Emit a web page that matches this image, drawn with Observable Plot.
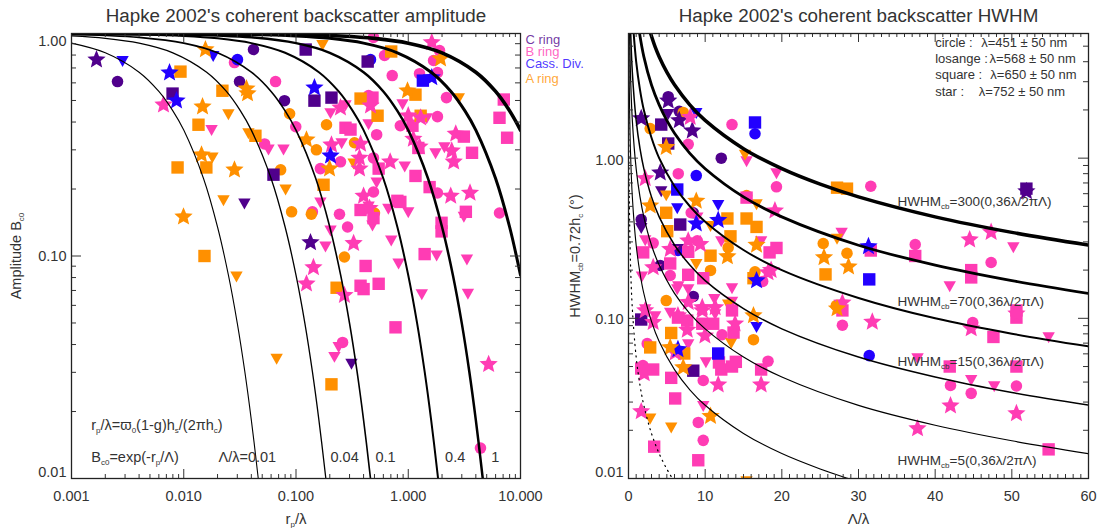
<!DOCTYPE html>
<html><head><meta charset="utf-8">
<script src="https://cdn.jsdelivr.net/npm/d3@7"></script>
<script src="https://cdn.jsdelivr.net/npm/@observablehq/plot@0.6"></script>
<style>
html,body{margin:0;padding:0;background:#fff;width:1099px;height:528px;overflow:hidden}
#a,#b{position:absolute;top:0}#a{left:0}#b{left:540px}
svg{display:block;overflow:visible}
</style></head><body><div id="a"></div><div id="b"></div>
<script>
// ---------- Left panel: [r_p/lambda, amplitude B_c0] ----------
const L_C_circle=[[.00257,.608],[.0418,.847],[.0314,.608],[.079,.499]];
const L_C_tri=[[.0347,.173],[.312,.033]];
const L_C_square=[[.00795,.537],[.063,.232],[.122,.847],[.435,.748],[.146,.499],[.207,.515]];
const L_C_star=[[.00167,.763],[.1346,.115]];
const L_D_circle=[[.0301,.763],[.461,.763]];
const L_D_tri=[[.00285,.756],[.0183,.796]];
const L_D_square=[[1.35,.614]];
const L_D_star=[[.00747,.667],[.00862,.499],[.146,.571],[.203,.282],[1.62,.634]];
const L_A_circle=[[.0877,.436],[.073,.244],[.0914,.158],[.187,.389],[.152,.3],[.332,.323],[.137,.154],[.5,.156],[.27,.099]];
const L_A_tri=[[.025,.436],[.0377,.358],[.018,.279],[.0226,.179],[.0808,.2],[.172,.892],[2.82,.515],[.0295,.0814],[.0672,.0347],[.326,.262]];
const L_A_square=[[.00935,.674],[.0221,.553],[.01353,.389],[.0435,.347],[.00881,.25],[.0159,.25],[.0153,.1],[.176,.209],[.376,.51],[.533,.427],[1.16,.531],[.705,.83],[1.29,.427],[.23,.072],[.207,.0265]];
const L_A_star=[[.0156,.847],[.0362,.565],[.037,.537],[.0147,.469],[.0144,.285],[.0283,.244],[.00995,.15],[.124,.333],[.199,.247],[.985,.553],[1.94,.771]];
const L_B_circle=[[.0283,.74],[.0657,.608],[.0995,.381],[.0525,.319],[.49,.96],[.615,.796],[.72,.647],[1.26,.66],[1.82,.667],[1.68,.756],[1.9,.838],[.443,.526],[1.82,.423],[.85,.385],[.523,.351],[2.19,.515],[.249,.265],[.49,.276],[.165,.247],[.49,.194],[1.82,.192],[6.5,.156],[.14,.158],[.244,.154],[.288,.135],[.26,.0409],[4.4,.0137]];
const L_B_tri=[[.0177,.37],[.0569,.303],[.0774,.303],[.203,.441],[.276,.479],[.255,.323],[.443,.393],[.89,.484],[1.75,.291],[.93,.254],[2.1,.31],[1.46,.418],[.523,.215],[.165,.175],[.665,.164],[1,.158],[.48,.138],[.203,.131],[.183,.111],[.705,.118],[.82,.093],[1.32,.0676],[1.79,.101],[3.33,.097],[3.4,.068],[.443,.168],[3.13,.151],[.22,.0354],[.24,.0392]];
const L_B_square=[[.48,.515],[.276,.377],[.306,.37],[.545,.247],[1.16,.229],[1.55,.204],[3.13,.344],[3.7,.291],[7.6,.34],[6.5,.418],[7.1,.505],[1.09,.385],[1.23,.306],[.376,.161],[.8,.177],[.85,.175],[.49,.148],[3.26,.158],[1.98,.141],[1.98,.129],[1.4,.102],[.417,.0902],[.376,.0735],[.4,.071],[.545,.075],[.77,.0478]];
const L_B_star=[[.0066,.478],[1.62,.911],[.249,.464],[.461,.474],[1,.427],[1.29,.418],[1.11,.336],[1.26,.31],[2.65,.354],[2.44,.297],[2.54,.265],[.207,.316],[.376,.319],[.368,.276],[.69,.265],[.368,.247],[3.55,.192],[2.39,.186],[.4,.186],[.452,.164],[.326,.114],[.143,.0888],[.124,.075],[.27,.0666],[5.2,.0326]];

// ---------- Right panel: [Lambda/lambda, HWHM] ----------
const R_C_circle=[[5.18,2.42],[6.62,1.96],[12.1,1],[1.66,.414],[8.45,.456],[4.14,.214],[8.45,.137]];
const R_C_tri=[[5.18,1.9],[1.66,.369],[4.27,.625],[6.45,.273]];
const R_C_square=[[4.27,1.62],[5.18,1.234],[6.75,.385],[1.66,.0983],[8.45,.0471],[51.9,.645]];
const R_C_star=[[1.66,1.77],[5.18,2.28],[6.62,1.72],[8.32,1.485],[4.14,.812],[51.9,.62]];
const R_D_circle=[[16.5,1.42],[8.84,.778],[31.4,.0585],[6.45,.265]];
const R_D_tri=[[8.84,1.93],[6.36,.49],[11.7,.513],[16.7,.089]];
const R_D_square=[[16.5,1.67],[6.36,.637],[11.7,.0603],[31.4,.175]];
const R_D_star=[[8.84,.39],[11.7,.41],[31.3,.281],[16.7,.172],[6.45,.064]];
const R_A_circle=[[2.83,1.53],[7.14,1.93],[15.4,.584],[4.92,.129],[10.7,.199],[13,.276],[16.5,.195],[25.4,.293],[28.5,.255],[27.1,.12],[16.3,.0736]];
const R_A_tri=[[15.2,1.06],[4.92,.59],[16.7,.52],[10.7,.38],[8.84,.22],[13,.123],[13.4,.0706],[2.83,.0239],[5.57,.021],[27.2,.316],[15.4,.0097]];
const R_A_square=[[4.92,.456],[5.05,.35],[10.7,.246],[13.3,.325],[12.9,.42],[15.4,.42],[16.7,.372],[27.2,.654],[28.5,.645],[5.57,.081],[2.83,.0658],[7.27,.0603],[16.3,.178],[25.7,.188]];
const R_A_star=[[4.92,1.17],[2.83,.505],[8.84,.54],[16.7,.287],[12.9,.243],[16.3,.104],[7.14,.0493],[10.7,.0245],[5.44,.0658],[25.5,.24],[28.7,.21],[27.2,.115]];
const R_B_circle=[[13.5,1.62],[7.79,1.22],[6.49,.8],[19.3,.662],[8.18,.456],[3.22,.295],[8.97,.305],[31.6,.668],[37.4,.289],[47.3,.223],[5.44,.185],[17.5,.17],[12.2,.079],[2.44,.0695],[1.88,.0507],[9.75,.0409],[18.2,.054],[9.1,.0224],[9.75,.0173],[27.9,.0905],[42,.0381],[44.7,.034],[44.9,.094],[50.6,.0378]];
const R_B_tri=[[15.4,.965],[19.3,.81],[17.3,.305],[27.8,.345],[50.2,.28],[12.1,.305],[1.75,.184],[6.49,.16],[13.5,.155],[11.2,.133],[13.5,.128],[5.44,.109],[2.18,.115],[7.79,.0695],[10.1,.0535],[9.75,.0286],[11.3,.107],[3.48,.104],[41.9,.16],[37.7,.0567],[54.8,.0768],[44.7,.0415],[47.7,.038],[7.79,.153],[6.36,.153],[8.97,.43],[2.18,.31]];
const R_B_square=[[15.4,.567],[18.4,.258],[19.3,.275],[1.92,.258],[7.79,.26],[5.44,.22],[7.79,.187],[9.75,.178],[13.5,.112],[6.45,.101],[7.66,.0968],[9.62,.0925],[11.05,.0925],[13.7,.0815],[1.66,.0486],[3.22,.0479],[5.57,.0425],[6.09,.0316],[3.35,.0158],[9.1,.013],[11.8,.053],[12.1,.0479],[13.5,.05],[14,.0535],[17.3,.0479],[37.4,.245],[27.9,.112],[44.7,.2],[44.7,.18],[47.6,.0765],[50.6,.101],[50.6,.112],[41.9,.05],[50.6,.05],[54.8,.0152],[31.6,.265]];
const R_B_star=[[8.05,1.8],[2.18,.746],[19.1,.47],[7.79,.305],[9.36,.29],[3.22,.208],[5.44,.27],[18.2,.193],[7.79,.126],[9.62,.117],[11.3,.117],[3.22,.0945],[6.45,.104],[7.66,.0845],[9.62,.112],[9.97,.0778],[13.9,.0925],[6.09,.061],[2.05,.0452],[11.7,.0385],[17.3,.0385],[1.66,.0262],[44.5,.31],[47.3,.345],[27.9,.125],[31.8,.095],[44.7,.0863],[42,.0285],[50.6,.0255],[37.7,.0205],[50.6,.107],[18.6,.2],[2.18,.112]];

// ---------- Model curves as tabulated in the figure ----------
const curveL001=[[.001,.905],[.002,.819],[.004,.67],[.006,.549],[.008,.449],[.01,.368],[.015,.223],[.02,.135],[.025,.082],[.03,.0498],[.035,.0302],[.04,.0183],[.046,.0101],[.048,.0082]];
const curveL004=[[.001,.975],[.002,.951],[.004,.905],[.008,.819],[.016,.67],[.024,.549],[.032,.449],[.04,.368],[.06,.223],[.08,.135],[.1,.082],[.12,.0498],[.14,.0302],[.16,.0183],[.184,.0101],[.19,.0087]];
const curveL01=[[.001,.99],[.002,.98],[.004,.961],[.01,.905],[.02,.819],[.04,.67],[.06,.549],[.08,.449],[.1,.368],[.15,.223],[.2,.135],[.25,.082],[.3,.0498],[.35,.0302],[.4,.0183],[.46,.0101],[.48,.0082]];
const curveL04=[[.001,.9975],[.004,.99],[.01,.975],[.02,.951],[.04,.905],[.08,.819],[.16,.67],[.24,.549],[.32,.449],[.4,.368],[.6,.223],[.8,.135],[1,.082],[1.2,.0498],[1.4,.0302],[1.6,.0183],[1.84,.0101],[1.9,.0087]];
const curveL1=[[.001,.999],[.01,.99],[.02,.98],[.04,.961],[.1,.905],[.2,.819],[.4,.67],[.6,.549],[.8,.449],[1,.368],[1.5,.223],[2,.135],[2.5,.082],[3,.0498],[3.5,.0302],[4,.0183],[4.6,.0101],[4.8,.0082]];
const curveL4=[[.001,.99975],[.04,.99],[.1,.975],[.2,.951],[.4,.905],[.8,.819],[1.6,.67],[2.4,.549],[3.2,.449],[4,.368],[6,.223],[8,.135],[10,.082]];
const curveL10=[[.001,.9999],[.1,.99],[.25,.975],[.5,.951],[1,.905],[2,.819],[4,.67],[6,.549],[8,.449],[10,.368]];
const curveH300=[[2.7,6.4],[3.5,4.91],[4,4.3],[5,3.44],[6,2.87],[8,2.15],[10,1.72],[15,1.146],[20,.86],[25,.688],[30,.573],[40,.43],[50,.344],[60,.2865]];
const curveH150=[[1.35,6.4],[2,4.3],[3,2.86],[4,2.15],[5,1.72],[6,1.43],[8,1.07],[10,.859],[15,.573],[20,.43],[30,.286],[40,.215],[50,.172],[60,.143]];
const curveH70=[[.62,6.5],[1,4.01],[1.5,2.67],[2,2],[3,1.34],[4,1],[6,.668],[8,.501],[10,.401],[15,.267],[20,.2],[30,.134],[40,.1],[50,.0802],[60,.0668]];
const curveH30=[[.27,6.4],[.5,3.44],[1,1.72],[1.5,1.146],[2,.86],[3,.573],[4,.43],[6,.287],[8,.215],[10,.172],[15,.115],[20,.086],[30,.0573],[40,.043],[50,.0344],[60,.0287]];
const curveH15=[[.135,6.4],[.25,3.44],[.5,1.72],[1,.859],[1.5,.573],[2,.43],[3,.286],[4,.215],[6,.143],[8,.107],[10,.0859],[15,.0573],[20,.043],[30,.0286],[40,.0215],[50,.0172],[60,.0143]];
const curveH5=[[.05,5.73],[.1,2.865],[.25,1.146],[.5,.573],[1,.2865],[1.5,.191],[2,.143],[3,.0955],[4,.0716],[6,.0478],[8,.0358],[10,.02865],[15,.0191],[20,.0143],[25,.01146],[28.65,.01],[30,.00955]];
const curveH1=[[.01,5.73],[.025,2.29],[.05,1.146],[.1,.573],[.25,.229],[.5,.115],[1,.0573],[1.5,.0382],[2,.02865],[3,.0191],[4,.0143],[5,.01146],[5.73,.01],[6,.00955]];

// ---------- Axes ----------
const leftXMajor=[.001,.01,.1,1,10];
const leftXMinor=[.002,.003,.004,.005,.006,.007,.008,.009,.02,.03,.04,.05,.06,.07,.08,.09,.2,.3,.4,.5,.6,.7,.8,.9,2,3,4,5,6,7,8,9];
const logYMajor=[.01,.1,1];
const leftYMinor=[.02,.03,.04,.05,.06,.07,.08,.09,.2,.3,.4,.5,.6,.7,.8,.9];
const rightYMinor=[.02,.03,.04,.05,.06,.07,.08,.09,.2,.3,.4,.5,.6,.7,.8,.9,2,3,4,5];
const rightXMajor=[0,10,20,30,40,50,60];
const rightXMinor=d3.range(0,61).filter(v=>v%10);

// ---------- Text ----------
const titleLeft="Hapke 2002's coherent backscatter amplitude";
const titleRight="Hapke 2002's coherent backscatter HWHM";
const legendNames=["C ring","B ring","Cass. Div.","A ring"];
const legendY=[.94,.83,.732,.627];
const ringColors=["#50008c","#ff3cb4","#2200ff","#ff9000"];
const lambdaKeys=["circle :","losange :","square :","star :"];
const lambdaVals=["λ=451 ± 50 nm","λ=568 ± 50 nm","λ=650 ± 50 nm","λ=752 ± 50 nm"];
const lambdaXs=[46,47.1,47.2,45.7];
const lambdaYs=[5.27,4.19,3.32,2.61];
const hwhmText=["HWHM_{cb}=300(0,36λ/2πΛ)","HWHM_{cb}=70(0,36λ/2πΛ)","HWHM_{cb}=15(0,36λ/2πΛ)","HWHM_{cb}=5(0,36λ/2πΛ)"];
const hwhmY=[.536,.1273,.0537,.01295];
const lambdaRatioLabels=[["Λ/λ=0.01",.0204],["0.04",.203],["0.1",.51],["0.4",2.13],["1",5.5]];

// ---------- Symbols ----------
const circleS={draw(c,s){const r=Math.sqrt(s/Math.PI)*.93;c.moveTo(r,0);c.arc(0,0,r,0,2*Math.PI);}};
const squareS={draw(c,s){const r=Math.sqrt(s/Math.PI);c.rect(-r,-r,2*r,2*r);}};
const triS={draw(c,s){const r=Math.sqrt(s/Math.PI);c.moveTo(-r,-r*.72);c.lineTo(r,-r*.72);c.lineTo(0,r*1.05);c.closePath();}};
const starS={draw(c,s){const R=Math.sqrt(s/Math.PI)*1.55,q=R*.45;for(let i=0;i<10;i++){const a=-Math.PI/2+i*Math.PI/5,u=i%2?q:R,x=u*Math.cos(a),y=u*Math.sin(a);i?c.lineTo(x,y):c.moveTo(x,y);}c.closePath();}};

const ink="#333";
const leftLayers=[
 [circleS,[L_C_circle,L_B_circle,L_D_circle,L_A_circle]],
 [triS,[L_C_tri,L_B_tri,L_D_tri,L_A_tri]],
 [squareS,[L_C_square,L_B_square,L_D_square,L_A_square]],
 [starS,[L_C_star,L_B_star,L_D_star,L_A_star]]];
const rightLayers=[
 [circleS,[R_C_circle,R_B_circle,R_D_circle,R_A_circle]],
 [triS,[R_C_tri,R_B_tri,R_D_tri,R_A_tri]],
 [squareS,[R_C_square,R_B_square,R_D_square,R_A_square]],
 [starS,[R_C_star,R_B_star,R_D_star,R_A_star]]];
const dots=layers=>layers.flatMap(([sym,groups])=>groups.map((g,i)=>Plot.dot(g,{x:d=>d[0],y:d=>d[1],r:6.2,symbol:sym,fill:ringColors[i],clip:true})));
const curve=(data,w,extra={})=>Plot.line(data,{x:d=>d[0],y:d=>d[1],stroke:"#000",strokeWidth:w,curve:"catmull-rom",clip:true,...extra});

const H=445;
const xTicks=(vals,len)=>[Plot.ruleX(vals,{stroke:ink,strokeWidth:1,insetTop:H-len}),Plot.ruleX(vals,{stroke:ink,strokeWidth:1,insetBottom:H-len})];
const yTicks=(vals,len,W)=>[Plot.ruleY(vals,{stroke:ink,strokeWidth:1,insetRight:W-len}),Plot.ruleY(vals,{stroke:ink,strokeWidth:1,insetLeft:W-len})];
const ax={tickSize:0,fontSize:14.5,color:ink,fill:ink,label:null};
const yAxes=(topShift,midShift)=>[
 Plot.axisY({...ax,ticks:[1],tickFormat:d3.format(".2f"),tickPadding:5,dy:topShift}),
 Plot.axisY({...ax,ticks:[.1],tickFormat:d3.format(".2f"),tickPadding:5,dy:midShift}),
 Plot.axisY({...ax,ticks:[.01],tickFormat:d3.format(".2f"),tickPadding:5,dy:-6})];
const note=(t,x,y,o={})=>Plot.text([t],{x:()=>x,y:()=>y,textAnchor:"start",fontSize:14.5,fill:ink,...o});

const left=Plot.plot({
 width:600,height:528,marginLeft:71,marginRight:80,marginTop:33,marginBottom:50,
 style:{background:"transparent",fontFamily:"'Liberation Sans',Arial,sans-serif"},
 x:{type:"log",domain:[.001,10],axis:null},
 y:{type:"log",domain:[.01,1],axis:null},
 marks:[
  ...dots(leftLayers),
  curve(curveL001,1.1),curve(curveL004,1.3),curve(curveL01,1.6),curve(curveL04,2),curve(curveL1,2.5),curve(curveL4,3),curve(curveL10,3.6),
  ...xTicks(leftXMajor,9),...xTicks(leftXMinor,4),
  ...yTicks(logYMajor,10,449),...yTicks(leftYMinor,5,449),
  Plot.frame({stroke:"#222",strokeWidth:1.3}),
  Plot.axisX({...ax,ticks:leftXMajor,tickFormat:d3.format(".3f"),tickPadding:12}),
  ...yAxes(8,0),
  Plot.text([titleLeft],{frameAnchor:"top",dy:-25,fontSize:18.8,fill:ink}),
  Plot.text(["r_{p}/λ"],{frameAnchor:"bottom",dy:45,fontSize:15,fill:ink}),
  Plot.text(["Amplitude B_{c0}"],{frameAnchor:"left",dx:-55,rotate:-90,textAnchor:"middle",fontSize:14.5,fill:ink}),
  note("r_{p}/λ=ϖ_{0}(1-g)h_{s}/(2πh_{c})",.0015,.0173),
  note("B_{c0}=exp(-r_{p}/Λ)",.0015,.01244),
  ...lambdaRatioLabels.map(([t,x])=>note(t,x,.01244)),
  ...legendNames.map((t,i)=>note(t,10,legendY[i],{fill:ringColors[i],dx:5,fontSize:13,fillOpacity:.8}))
 ]});
const right=Plot.plot({
 width:559,height:528,marginLeft:88,marginRight:11,marginTop:33,marginBottom:50,
 style:{background:"transparent",fontFamily:"'Liberation Sans',Arial,sans-serif"},
 x:{domain:[0,60],axis:null},
 y:{type:"log",domain:[.01,6],axis:null},
 marks:[
  ...dots(rightLayers),
  curve(curveH300,3.5),curve(curveH150,2.8),curve(curveH70,2),curve(curveH30,1.5),curve(curveH15,1.2),curve(curveH5,1.1),curve(curveH1,1.2,{strokeDasharray:"1.2 4.5"}),
  ...xTicks(rightXMajor,9),...xTicks(rightXMinor,4),
  ...yTicks(logYMajor,10,460),...yTicks(rightYMinor,5,460),
  Plot.frame({stroke:"#222",strokeWidth:1.3}),
  Plot.axisX({...ax,ticks:rightXMajor,tickFormat:d3.format("d"),tickPadding:12}),
  ...yAxes(2,1),
  Plot.text([titleRight],{frameAnchor:"top",dy:-25,fontSize:18.8,fill:ink}),
  Plot.text(["Λ/λ"],{frameAnchor:"bottom",dy:45,fontSize:15,fill:ink}),
  Plot.text(["HWHM_{cb}=0.72h_{c} (°)"],{frameAnchor:"left",dx:-53,rotate:-90,textAnchor:"middle",fontSize:14.5,fill:ink}),
  ...lambdaKeys.map((t,i)=>note(t,40,lambdaYs[i],{fontSize:13})),
  ...lambdaVals.map((t,i)=>note(t,lambdaXs[i],lambdaYs[i],{fontSize:13})),
  ...hwhmText.map((t,i)=>note(t,35.1,hwhmY[i],{fontSize:13.5}))
 ]});
// render _{...} as real subscripts
function subs(svg){
 svg.querySelectorAll("text").forEach(el=>{
  const targets=el.querySelectorAll("tspan").length?el.querySelectorAll("tspan"):[el];
  targets.forEach(t=>{
   const s=t.textContent;if(!s.includes("_{"))return;
   t.textContent="";
   s.split(/(_\{[^}]*\})/).filter(Boolean).forEach(p=>{
    const n=document.createElementNS("http://www.w3.org/2000/svg","tspan");
    if(p.startsWith("_{")){n.textContent=p.slice(2,-1);n.setAttribute("font-size","8");n.style.baselineShift="-3px";}
    else n.textContent=p;
    t.appendChild(n);
   });
  });
 });
}
subs(left);subs(right);
document.getElementById("a").append(left);
document.getElementById("b").append(right);
</script></body></html>
